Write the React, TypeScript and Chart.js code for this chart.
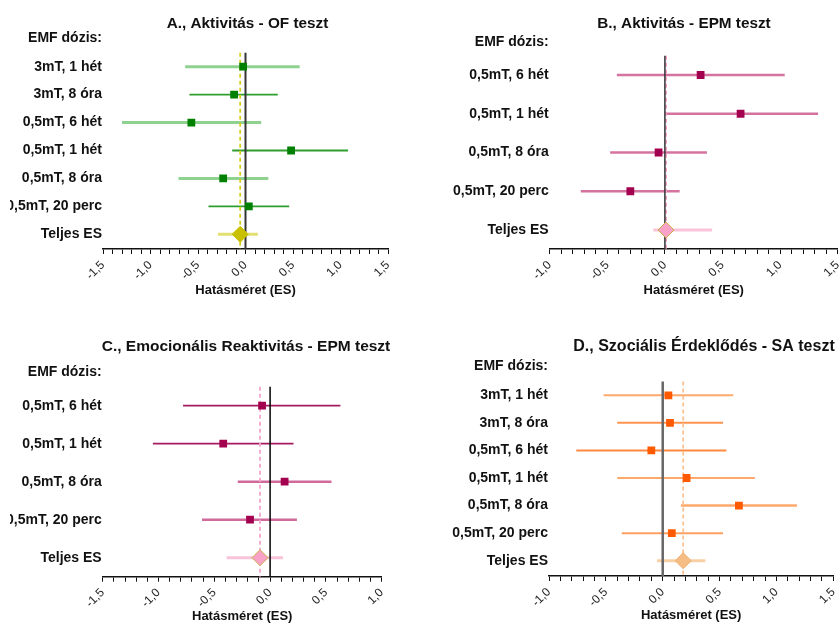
import React, { useEffect, useRef } from 'react';
import { Chart, registerables } from 'chart.js';

Chart.register(...registerables);

// ---------- shared texts ----------
const headerLabel = 'EMF dózis:';
const totalLabel = 'Teljes ES';
const axisTitle = 'Hatásméret (ES)';

// ---------- Panel A ----------
const aTitle = 'A., Aktivitás - OF teszt';
const aRows = ['3mT, 1 hét', '3mT, 8 óra', '0,5mT, 6 hét', '0,5mT, 1 hét', '0,5mT, 8 óra', '0,5mT, 20 perc'];
const aEffect = [-0.025, -0.12, -0.57, 0.48, -0.235, 0.035];
const aLower = [-0.635, -0.59, -1.3, -0.14, -0.705, -0.39];
const aUpper = [0.57, 0.34, 0.165, 1.08, 0.24, 0.46];
const aTotal = [-0.056, -0.29, 0.13]; // ES, lower, upper
const aTickValues = [-1.5, -1, -0.5, 0, 0.5, 1, 1.5];
const aTickLabels = ['-1,5', '-1,0', '-0,5', '0,0', '0,5', '1,0', '1,5'];

// ---------- Panel B ----------
const bTitle = 'B., Aktivitás - EPM teszt';
const bRows = ['0,5mT, 6 hét', '0,5mT, 1 hét', '0,5mT, 8 óra', '0,5mT, 20 perc'];
const bEffect = [0.31, 0.657, -0.055, -0.3];
const bLower = [-0.417, 0.0, -0.475, -0.73];
const bUpper = [1.04, 1.33, 0.365, 0.128];
const bTotal = [0.01, -0.1, 0.41];
const bTickValues = [-1, -0.5, 0, 0.5, 1, 1.5];
const bTickLabels = ['-1,0', '-0,5', '0,0', '0,5', '1,0', '1,5'];

// ---------- Panel C ----------
const cTitle = 'C., Emocionális Reaktivitás - EPM teszt';
const cRows = ['0,5mT, 6 hét', '0,5mT, 1 hét', '0,5mT, 8 óra', '0,5mT, 20 perc'];
const cEffect = [-0.072, -0.42, 0.13, -0.18];
const cLower = [-0.78, -1.05, -0.29, -0.61];
const cUpper = [0.63, 0.21, 0.55, 0.24];
const cTotal = [-0.09, -0.39, 0.116];
const cTickValues = [-1.5, -1, -0.5, 0, 0.5, 1];
const cTickLabels = ['-1,5', '-1,0', '-0,5', '0,0', '0,5', '1,0'];

// ---------- Panel D ----------
const dTitle = 'D., Szociális Érdeklődés - SA teszt';
const dRows = ['3mT, 1 hét', '3mT, 8 óra', '0,5mT, 6 hét', '0,5mT, 1 hét', '0,5mT, 8 óra', '0,5mT, 20 perc'];
const dEffect = [0.05, 0.064, -0.1, 0.21, 0.67, 0.08];
const dLower = [-0.52, -0.4, -0.76, -0.4, 0.16, -0.36];
const dUpper = [0.62, 0.53, 0.56, 0.81, 1.18, 0.53];
const dTotal = [0.18, -0.05, 0.375];
const dTickValues = [-1, -0.5, 0, 0.5, 1, 1.5];
const dTickLabels = ['-1,0', '-0,5', '0,0', '0,5', '1,0', '1,5'];

const FONT = "'Liberation Sans', Arial, Helvetica, sans-serif";

type PanelDef = {
  title: string;
  rows: string[];
  effect: number[];
  lower: number[];
  upper: number[];
  total: number[];
  tickValues: number[];
  tickLabels: string[];
  left: number;
  top: number;
  bottom: number;
  titleX: number;
  titleY: number;
  titleSize: number;
  chartLeft: number;
  chartRight: number;
  areaTop: number;
  areaBottom: number;
  axisTitleY: number;
  firstRowY: number;
  rowGap: number;
  headerRow: number;
  lineColors: string[];
  lineWidths: number[];
  markerColor: string;
  totalLineColor: string;
  diamondFill: string;
  diamondBorder: string;
  refColor: string;
  zeroColor: string;
  zeroWidth: number;
};

const panels: PanelDef[] = [
  {
    title: aTitle, rows: aRows, effect: aEffect, lower: aLower, upper: aUpper, total: aTotal,
    tickValues: aTickValues, tickLabels: aTickLabels,
    left: 10, top: 0, bottom: 302, titleX: 247.5, titleY: 23.3, titleSize: 15.3,
    chartLeft: 103, chartRight: 388, areaTop: 33.3, areaBottom: 249, axisTitleY: 290,
    firstRowY: 66.7, rowGap: 27.93, headerRow: -0.03,
    lineColors: ['#8fd18f', '#2f9e2f', '#8fd18f', '#2f9e2f', '#8fd18f', '#2f9e2f'],
    lineWidths: [3, 1.8, 3, 1.8, 3, 1.8],
    markerColor: '#008000', totalLineColor: '#e2e070', diamondFill: '#c8c000', diamondBorder: '#c8c000',
    refColor: '#d8d020', zeroColor: '#333333', zeroWidth: 2,
  },
  {
    title: bTitle, rows: bRows, effect: bEffect, lower: bLower, upper: bUpper, total: bTotal,
    tickValues: bTickValues, tickLabels: bTickLabels,
    left: 425, top: 0, bottom: 302, titleX: 684, titleY: 23.3, titleSize: 15.3,
    chartLeft: 549.7, chartRight: 837.7, areaTop: 33.3, areaBottom: 249, axisTitleY: 290,
    firstRowY: 75, rowGap: 38.75, headerRow: 0.14,
    lineColors: ['#d4739f', '#d4739f', '#d4739f', '#d4739f'],
    lineWidths: [2.5, 2.5, 2.5, 2.5],
    markerColor: '#a3004f', totalLineColor: '#f9c4da', diamondFill: '#f8a2c8', diamondBorder: '#c8b048',
    refColor: '#f2a0c8', zeroColor: '#333333', zeroWidth: 1.5,
  },
  {
    title: cTitle, rows: cRows, effect: cEffect, lower: cLower, upper: cUpper, total: cTotal,
    tickValues: cTickValues, tickLabels: cTickLabels,
    left: 10, top: 318, bottom: 624, titleX: 245.8, titleY: 346.7, titleSize: 15.5,
    chartLeft: 102.7, chartRight: 381.7, areaTop: 356.7, areaBottom: 576.7, axisTitleY: 616.7,
    firstRowY: 405.7, rowGap: 38, headerRow: 0.12,
    lineColors: ['#a61a62', '#a61a62', '#d0699c', '#d0699c'],
    lineWidths: [1.8, 1.8, 2.5, 2.5],
    markerColor: '#a3004f', totalLineColor: '#f9c4da', diamondFill: '#f8a2c8', diamondBorder: '#c8b048',
    refColor: '#f4a6cc', zeroColor: '#000000', zeroWidth: 1.5,
  },
  {
    title: dTitle, rows: dRows, effect: dEffect, lower: dLower, upper: dUpper, total: dTotal,
    tickValues: dTickValues, tickLabels: dTickLabels,
    left: 425, top: 318, bottom: 624, titleX: 703.8, titleY: 346.7, titleSize: 16,
    chartLeft: 549, chartRight: 833.3, areaTop: 356.7, areaBottom: 576, axisTitleY: 615.7,
    firstRowY: 395.3, rowGap: 27.57, headerRow: -0.04,
    lineColors: ['#ffa86c', '#ff9350', '#ff8a40', '#ffa86c', '#ffa86c', '#ffa060'],
    lineWidths: [2, 2, 2, 2, 2.5, 2],
    markerColor: '#ff5a00', totalLineColor: '#f8d0a4', diamondFill: '#f5bd84', diamondBorder: '#f0b074',
    refColor: '#f8c290', zeroColor: '#666666', zeroWidth: 2.5,
  },
];

function ForestPanel({ p }: { p: PanelDef }) {
  const ref = useRef<HTMLCanvasElement | null>(null);
  const width = Math.round(2 * (p.titleX - p.left));
  const height = p.bottom - p.top;

  useEffect(() => {
    if (!ref.current) return;
    const n = p.rows.length;
    const totalRow = n + 1;
    const yMin = 1 + (p.areaTop - p.firstRowY) / p.rowGap;
    const yMax = 1 + (p.areaBottom - p.firstRowY) / p.rowGap;
    const yAxisW = p.chartLeft - p.left;
    const rightW = p.left + width - p.chartRight;
    const xAxisH = p.bottom - p.areaBottom;
    const titleLH = p.titleSize * 1.2;
    const axisLH = 13 * 1.2;
    const titlePadTop = p.titleY - p.top - titleLH / 2;
    const titlePadBottom = Math.max(0, p.areaTop - p.titleY - titleLH / 2);
    const axisPadBottom = Math.max(0, p.bottom - p.axisTitleY - axisLH / 2);
    const xMin = p.tickValues[0];
    const xMax = p.tickValues[p.tickValues.length - 1];
    const yLabels = [headerLabel, ...p.rows, totalLabel];
    const yTickVals = [p.headerRow, ...p.rows.map((_, i) => i + 1), totalRow];

    const datasets: any[] = [];
    datasets.push({
      data: p.effect.map((v, i) => ({ x: v, y: i + 1 })),
      showLine: false, pointStyle: 'rect', pointRadius: 5.5, pointHoverRadius: 5.5,
      pointBackgroundColor: p.markerColor, pointBorderWidth: 0, order: 0,
    });
    datasets.push({
      data: [{ x: p.total[0], y: totalRow }],
      showLine: false, pointStyle: 'rectRot', pointRadius: 8, pointHoverRadius: 8,
      pointBackgroundColor: p.diamondFill, pointBorderColor: p.diamondBorder, pointBorderWidth: 1, order: 0,
    });
    datasets.push({
      data: [{ x: 0, y: 0.5 }, { x: 0, y: yMax }],
      borderColor: p.zeroColor, borderWidth: p.zeroWidth, pointRadius: 0, order: 1,
    });
    datasets.push({
      data: [{ x: p.total[0], y: 0.5 }, { x: p.total[0], y: yMax }],
      borderColor: p.refColor, borderWidth: 1.8, borderDash: [4, 3], pointRadius: 0, order: 1,
    });
    p.rows.forEach((_, i) => {
      datasets.push({
        data: [{ x: p.lower[i], y: i + 1 }, { x: p.upper[i], y: i + 1 }],
        borderColor: p.lineColors[i], borderWidth: p.lineWidths[i], pointRadius: 0, order: 2,
      });
    });
    datasets.push({
      data: [{ x: p.total[1], y: totalRow }, { x: p.total[2], y: totalRow }],
      borderColor: p.totalLineColor, borderWidth: 3, pointRadius: 0, order: 2,
    });

    const chart = new Chart(ref.current, {
      type: 'line',
      data: { datasets },
      options: {
        responsive: false,
        animation: false,
        events: [],
        layout: { padding: 0 },
        plugins: {
          legend: { display: false },
          tooltip: { enabled: false },
          title: {
            display: true,
            text: p.title,
            color: '#111',
            font: { family: FONT, size: p.titleSize, weight: 'bold', lineHeight: 1.2 },
            padding: { top: titlePadTop, bottom: titlePadBottom },
          },
        },
        scales: {
          x: {
            type: 'linear',
            position: 'bottom',
            min: xMin,
            max: xMax,
            afterBuildTicks: (s: any) => {
              const t: any[] = [];
              for (let k = Math.round(xMin * 10); k <= Math.round(xMax * 10); k++) t.push({ value: k / 10 });
              s.ticks = t;
            },
            afterFit: (s: any) => { s.height = xAxisH; },
            ticks: {
              autoSkip: false,
              minRotation: 45,
              maxRotation: 45,
              padding: 4,
              color: '#222',
              font: { family: FONT, size: 12 },
              callback: (v: any) => {
                const idx = p.tickValues.findIndex((t) => Math.abs(t - Number(v)) < 1e-6);
                return idx >= 0 ? p.tickLabels[idx] : '';
              },
            },
            grid: { display: true, drawOnChartArea: false, drawTicks: true, tickLength: 5, color: '#111', lineWidth: 1 },
            border: { display: true, color: '#111', width: 1.5 },
            title: {
              display: true,
              text: axisTitle,
              color: '#111',
              font: { family: FONT, size: 13, weight: 'bold', lineHeight: 1.2 },
              padding: { top: 0, bottom: axisPadBottom },
            },
          },
          y: {
            type: 'linear',
            position: 'left',
            reverse: true,
            min: yMin,
            max: yMax,
            afterBuildTicks: (s: any) => { s.ticks = yTickVals.map((v) => ({ value: v })); },
            afterFit: (s: any) => { s.width = yAxisW; },
            ticks: {
              autoSkip: false,
              padding: 1,
              color: '#111',
              font: { family: FONT, size: 14, weight: 'bold' },
              callback: (_v: any, i: number) => yLabels[i],
            },
            grid: { display: false, drawTicks: false, tickLength: 0 },
            border: { display: false },
          },
          pad: {
            type: 'linear',
            position: 'right',
            display: true,
            afterFit: (s: any) => { s.width = rightW; },
            ticks: { display: false },
            grid: { display: false, drawTicks: false },
            border: { display: false },
          },
        },
      } as any,
    });
    return () => chart.destroy();
  }, [p, width]);

  return (
    <div style={{ position: 'absolute', left: p.left, top: p.top, width, height }}>
      <canvas ref={ref} width={width} height={height} style={{ display: 'block', width, height }} />
    </div>
  );
}

export default function App() {
  return (
    <div
      style={{
        position: 'absolute',
        left: 0,
        top: 0,
        width: 839,
        height: 624,
        overflow: 'hidden',
        background: '#ffffff',
      }}
    >
      {panels.map((p, i) => (
        <ForestPanel key={i} p={p} />
      ))}
    </div>
  );
}
